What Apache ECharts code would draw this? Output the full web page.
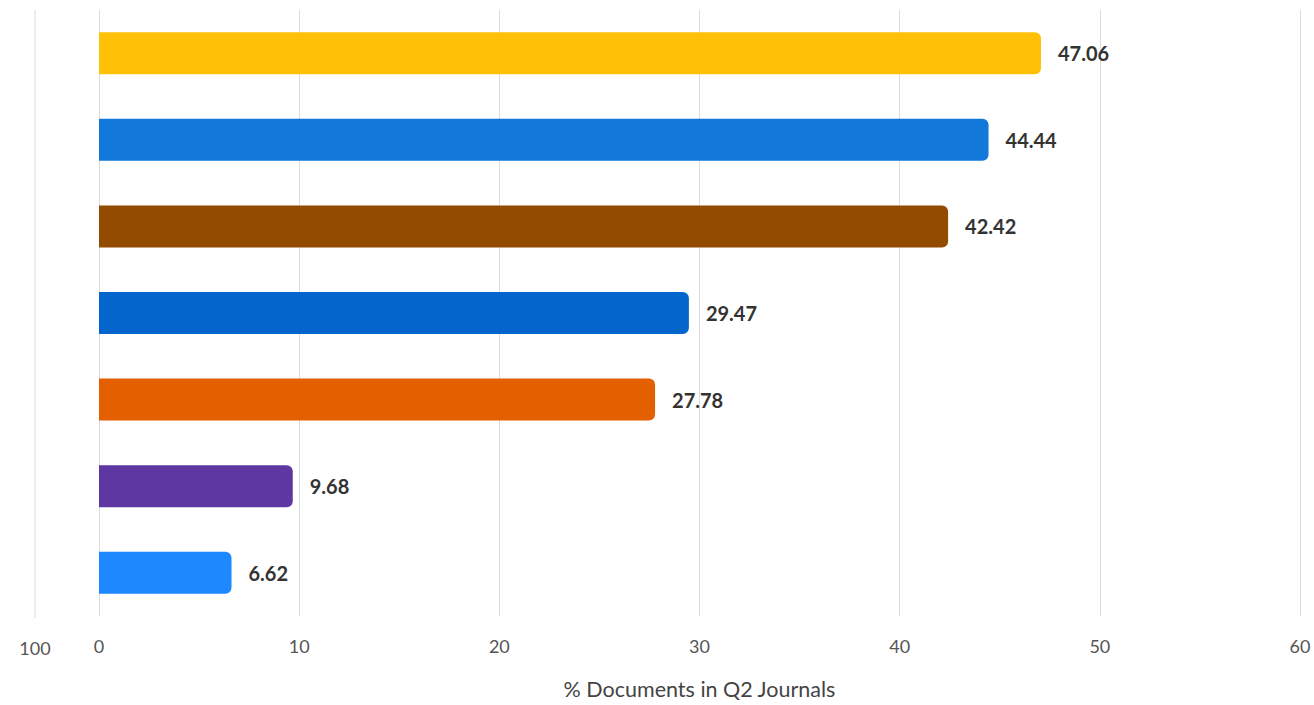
<!DOCTYPE html>
<html>
<head>
<meta charset="utf-8">
<script src="https://cdn.jsdelivr.net/npm/echarts@6/dist/echarts.min.js"></script>
<style>
html,body{margin:0;padding:0;background:#fff;}
#chart{width:1314px;height:705px;}
</style>
</head>
<body>
<div id="chart"></div>
<script>
// Categories are listed bottom to top (ECharts category y-axis order)
var categories = ['G', 'F', 'E', 'D', 'C', 'B', 'A'];
var values = [6.62, 9.68, 27.78, 29.47, 42.42, 44.44, 47.06];
var barColors = ['#1E88FF', '#5E37A3', '#E35F00', '#0466CC', '#934B00', '#1279DA', '#FFC107'];
var xTicks = [0, 10, 20, 30, 40, 50, 60];
var strayTickLabel = '100';
var axisTitle = '% Documents in Q2 Journals';

var FONT = 'Lato';
var chart = echarts.init(document.getElementById('chart'), null, {renderer: 'svg'});

var gridLeft = 99, gridTop = 10, gridRight = 14, gridBottom = 87;

chart.setOption({
  animation: false,
  backgroundColor: '#ffffff',
  grid: {left: gridLeft, right: gridRight, top: gridTop, bottom: gridBottom, containLabel: false},
  xAxis: {
    type: 'value',
    min: xTicks[0],
    max: xTicks[xTicks.length - 1],
    interval: xTicks[1] - xTicks[0],
    name: axisTitle,
    nameLocation: 'middle',
    nameGap: 62,
    nameTextStyle: {fontFamily: FONT, fontSize: 21.5, color: '#444'},
    axisLine: {show: false},
    axisTick: {show: false},
    axisLabel: {fontFamily: FONT, fontSize: 18, color: '#555', margin: 21},
    splitLine: {show: true, lineStyle: {color: '#dcdcdc', width: 1}}
  },
  yAxis: {
    type: 'category',
    data: categories,
    axisLine: {show: false},
    axisTick: {show: false},
    axisLabel: {show: false},
    splitLine: {show: false}
  },
  graphic: [
    {
      type: 'line',
      shape: {x1: 35, y1: gridTop, x2: 35, y2: 705 - gridBottom},
      style: {stroke: '#dcdcdc', lineWidth: 1}
    },
    {
      type: 'text',
      x: 35, y: 648,
      style: {text: strayTickLabel, font: '18px ' + FONT, fill: '#555', align: 'center', verticalAlign: 'middle'}
    }
  ],
  series: [{
    type: 'bar',
    barWidth: 42,
    data: values.map(function (v, i) {
      return {value: v, itemStyle: {color: barColors[i]}};
    }),
    itemStyle: {borderRadius: [0, 6, 6, 0]},
    label: {
      show: true,
      position: 'right',
      distance: 17,
      formatter: function (p) { return p.value.toFixed(2); },
      fontFamily: FONT,
      fontSize: 20,
      fontWeight: 'bold',
      color: '#333'
    }
  }]
});
</script>
</body>
</html>
